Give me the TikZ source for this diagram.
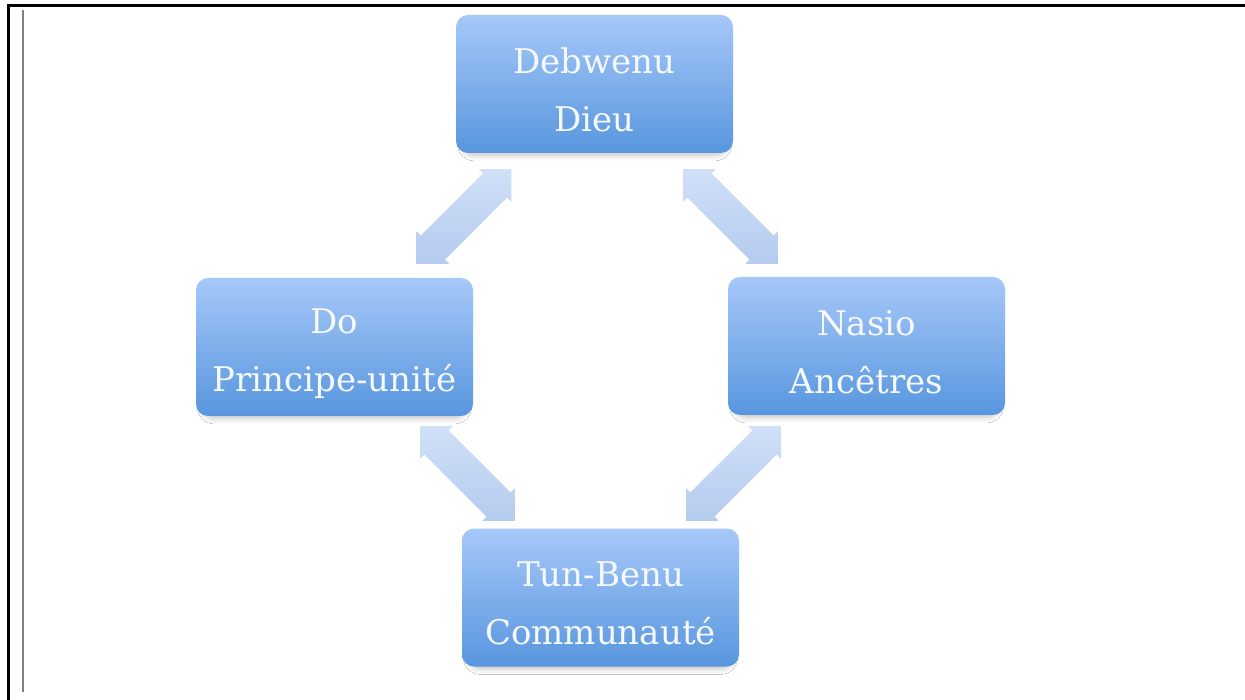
\documentclass[tikz,border=0pt]{standalone}
\usepackage{fontspec}
\setmainfont{DejaVu Serif}
\usetikzlibrary{shadows.blur}
\definecolor{boxtop}{RGB}{166,200,249}
\definecolor{boxbot}{RGB}{88,150,222}
\definecolor{arrtop}{RGB}{208,224,247}
\definecolor{arrbot}{RGB}{180,203,239}
\definecolor{txtcol}{RGB}{246,249,253}
\tikzset{
  conceptbox/.style={rectangle, rounded corners=12pt, minimum width=277pt, minimum height=138pt,
    inner sep=0pt, top color=boxtop, bottom color=boxbot, draw=none,
    blur shadow={shadow xshift=0pt, shadow yshift=-6pt, shadow blur radius=6pt, shadow opacity=25, shadow scale=0.95}},
  boxtext/.style={text=txtcol, align=center, inner sep=0pt, font=\fontsize{34}{58}\selectfont},
  arrowfill/.style={top color=arrtop, bottom color=arrbot, draw=none},
}
\newcommand{\blockarrow}[3]{%
  \coordinate (#1) at #2;
  \begin{scope}[shift={(#1)}, rotate=#3]
    \path[arrowfill] (-67,0) -- (-44,23) -- (-44,17) -- (44,17) -- (44,23) -- (67,0)
      -- (44,-23) -- (44,-17) -- (-44,-17) -- (-44,-23) -- cycle;
  \end{scope}}
\begin{document}
\begin{tikzpicture}[x=1pt, y=-1pt]
\useasboundingbox (0,0) rectangle (1245,700);
\fill[white] (0,0) rectangle (1245,700);
% page rules
\coordinate (tl) at (8,6);
\coordinate (tr) at (1245,6);
\coordinate (bl) at (8,700);
\draw[line width=3pt, line cap=rect] (bl) -- (tl) -- (tr);
\coordinate (gt) at (23,10);
\coordinate (gb) at (23,692);
\draw[line width=1.3pt, gray] (gt) -- (gb);
% boxes
\node[conceptbox] (dieu) at (594.5,84) {};
\node[conceptbox] (do) at (334.5,347) {};
\node[conceptbox] (nasio) at (866.5,346) {};
\node[conceptbox] (tun) at (600.5,597.5) {};
\node[boxtext] (dieu-t) at ([yshift=-6pt]dieu.center) {Debwenu\\Dieu};
\node[boxtext] (do-t) at ([yshift=-7pt]do.center) {Do\\Principe-unité};
\node[boxtext] (nasio-t) at ([yshift=-6pt]nasio.center) {Nasio\\Ancêtres};
\node[boxtext] (tun-t) at ([yshift=-6pt]tun.center) {Tun-Benu\\Communauté};
% arrows
\blockarrow{a1}{(464,216.5)}{45}
\blockarrow{a2}{(730.5,216.5)}{-45}
\blockarrow{a3}{(467.5,473.5)}{-45}
\blockarrow{a4}{(733.5,473.5)}{45}
\end{tikzpicture}
\end{document}
